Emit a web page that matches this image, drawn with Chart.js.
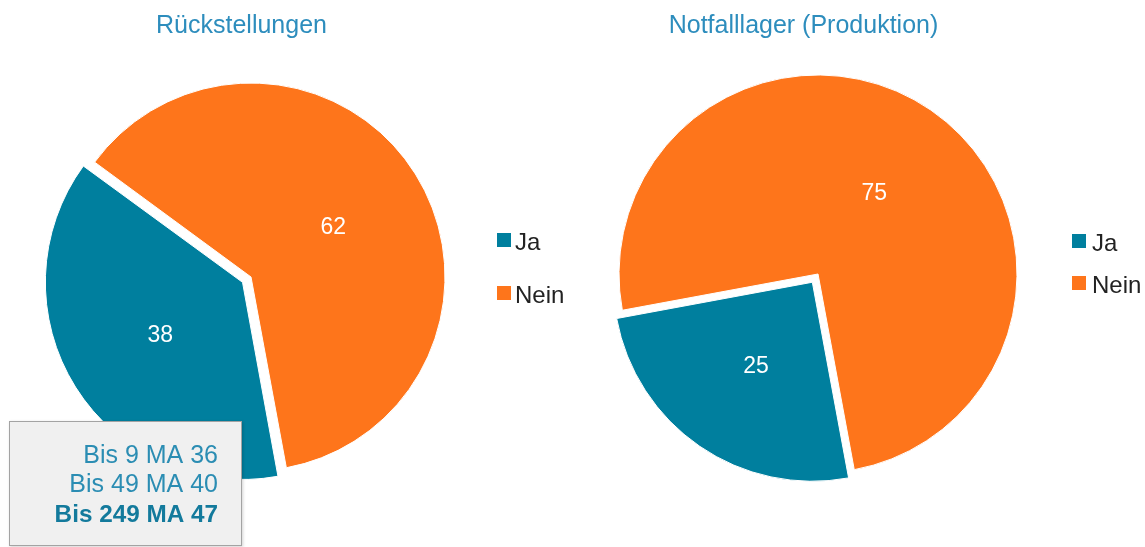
<!DOCTYPE html>
<html><head><meta charset="utf-8">
<script src="https://cdn.jsdelivr.net/npm/chart.js@4/dist/chart.umd.min.js"></script>
<style>
html,body{margin:0;padding:0;background:#fff;}
#wrap{position:relative;width:1145px;height:547px;overflow:hidden;background:#fff;}
canvas{position:absolute;top:0;}
#c1{left:0}
#c2{left:572px}
</style></head><body>
<div id="wrap"><canvas id="c1" width="572" height="547"></canvas><canvas id="c2" width="573" height="547"></canvas></div>
<script>
const categories = ['Ja', 'Nein'];
const rueckstellungenValues = [38, 62];
const notfalllagerValues = [25, 75];
const chartTitles = ['Rückstellungen', 'Notfalllager (Produktion)'];
const tooltipLines = ['Bis 9 MA 36', 'Bis 49 MA 40', 'Bis 249 MA 47'];

const TEAL = '#007f9e', ORANGE = '#fe751b';
const FONT = '"Liberation Sans", Arial, Helvetica, sans-serif';

const decorPlugin = {
  id: 'decor',
  afterDatasetsDraw(chart) {
    const ctx = chart.ctx;
    const meta = chart.getDatasetMeta(0);
    const ds = chart.data.datasets[0];
    ctx.save();
    ctx.fillStyle = '#ffffff';
    ctx.font = '23px ' + FONT;
    ctx.textAlign = 'center';
    ctx.textBaseline = 'alphabetic';
    meta.data.forEach((arc, i) => {
      const p = arc.getProps(['x', 'y', 'startAngle', 'endAngle', 'outerRadius'], true);
      const mid = (p.startAngle + p.endAngle) / 2;
      const off = (Array.isArray(ds.offset) ? (ds.offset[i] || 0) : (ds.offset || 0)) / 4;
      const d = p.outerRadius / 2 + off;
      ctx.fillText(String(ds.data[i]), p.x + Math.cos(mid) * d, p.y + Math.sin(mid) * d + 8.3);
    });
    ctx.restore();
  },
  afterDraw(chart, args, o) {
    const ctx = chart.ctx;
    ctx.save();
    // title
    ctx.font = '25px ' + FONT;
    ctx.fillStyle = '#2d8dbd';
    ctx.textAlign = 'center';
    ctx.textBaseline = 'alphabetic';
    ctx.fillText(o.title, o.titleX, o.titleY);
    // legend
    const colors = chart.data.datasets[0].backgroundColor;
    chart.data.labels.forEach((lab, i) => {
      const y = o.legendY + i * o.legendGap;
      ctx.fillStyle = colors[i];
      ctx.fillRect(o.legendX, y, 14, 14);
      ctx.fillStyle = '#222222';
      ctx.font = '24px ' + FONT;
      ctx.textAlign = 'left';
      ctx.fillText(lab, o.legendTextX, y + 16.5);
    });
    // tooltip
    if (o.tooltip) {
      const t = o.tooltip;
      ctx.save();
      ctx.shadowColor = 'rgba(0,0,0,0.18)';
      ctx.shadowBlur = 3;
      ctx.shadowOffsetX = 1;
      ctx.shadowOffsetY = 1;
      ctx.fillStyle = '#f0f0f0';
      ctx.fillRect(t.x, t.y, t.w, t.h);
      ctx.restore();
      ctx.strokeStyle = '#a3a3a3';
      ctx.lineWidth = 1;
      ctx.strokeRect(t.x + 0.5, t.y + 0.5, t.w - 1, t.h - 1);
      ctx.textAlign = 'right';
      t.lines.forEach((line, i) => {
        const last = i === t.lines.length - 1;
        ctx.font = (last ? 'bold 24.3px ' : '25px ') + FONT;
        ctx.fillStyle = last ? '#137a9c' : '#2b8db3';
        ctx.fillText(line, t.textRight, t.baselines[i]);
      });
    }
    ctx.restore();
  }
};

function makePie(id, values, padding, radius, decor) {
  return new Chart(document.getElementById(id), {
    type: 'pie',
    data: {
      labels: categories,
      datasets: [{
        data: values,
        backgroundColor: [TEAL, ORANGE],
        borderColor: '#ffffff',
        borderWidth: 1,
        offset: [40, 0],
        radius: radius,
        rotation: 169.5
      }]
    },
    options: {
      responsive: false,
      animation: false,
      events: [],
      layout: { padding: padding },
      plugins: {
        legend: { display: false },
        title: { display: false },
        tooltip: { enabled: false },
        decor: decor
      }
    },
    plugins: [decorPlugin]
  });
}

makePie('c1', rueckstellungenValues,
  { left: 51, right: 121, top: 77, bottom: 70 }, 194,
  {
    title: chartTitles[0], titleX: 241.5, titleY: 33,
    legendX: 497, legendY: 233, legendGap: 53, legendTextX: 515,
    tooltip: { x: 9, y: 421, w: 233, h: 125, textRight: 218, baselines: [463, 491.7, 521.7], lines: tooltipLines }
  });

makePie('c2', notfalllagerValues,
  { left: 46, right: 127, top: 74, bottom: 73 }, 199,
  {
    title: chartTitles[1], titleX: 231.5, titleY: 33,
    legendX: 500, legendY: 234, legendGap: 42, legendTextX: 520,
    tooltip: null
  });
</script>
</body></html>
